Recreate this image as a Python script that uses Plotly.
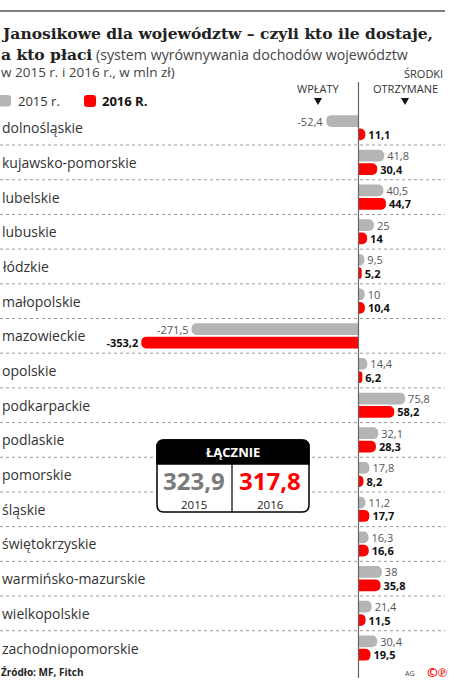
import plotly.graph_objects as go

regions = ["dolnośląskie", "kujawsko-pomorskie", "lubelskie", "lubuskie", "łódzkie",
           "małopolskie", "mazowieckie", "opolskie", "podkarpackie", "podlaskie",
           "pomorskie", "śląskie", "świętokrzyskie", "warmińsko-mazurskie",
           "wielkopolskie", "zachodniopomorskie"]
v2015 = [-52.4, 41.8, 40.5, 25, 9.5, 10, -271.5, 14.4, 75.8, 32.1, 17.8, 11.2, 16.3, 38, 21.4, 30.4]
v2016 = [11.1, 30.4, 44.7, 14, 5.2, 10.4, -353.2, 6.2, 58.2, 28.3, 8.2, 17.7, 16.6, 35.8, 11.5, 19.5]
total_2015 = 323.9
total_2016 = 317.8
years = ["2015", "2016"]

W, H = 462, 684
SANS = "Open Sans"
SERIF = "DejaVu Serif"
GRAY = "#b5b5b5"
RED = "#ff0000"


def fmt(v):
    return ("%g" % v).replace(".", ",")


def px(x):
    return x / W


def py(y):
    return 1 - y / H


def rrect(x0, y0, x1, y1, r, top=True, bottom=True):
    # rounded rectangle path in paper coords from pixel coords
    rt = r if top else 0
    rb = r if bottom else 0
    p = []
    p.append("M %f,%f" % (px(x0 + rt), py(y0)))
    p.append("L %f,%f" % (px(x1 - rt), py(y0)))
    if rt:
        p.append("Q %f,%f %f,%f" % (px(x1), py(y0), px(x1), py(y0 + rt)))
    p.append("L %f,%f" % (px(x1), py(y1 - rb)))
    if rb:
        p.append("Q %f,%f %f,%f" % (px(x1), py(y1), px(x1 - rb), py(y1)))
    p.append("L %f,%f" % (px(x0 + rb), py(y1)))
    if rb:
        p.append("Q %f,%f %f,%f" % (px(x0), py(y1), px(x0), py(y1 - rb)))
    p.append("L %f,%f" % (px(x0), py(y0 + rt)))
    if rt:
        p.append("Q %f,%f %f,%f" % (px(x0), py(y0), px(x0 + rt), py(y0)))
    p.append("Z")
    return " ".join(p)


def tri_down(cx, y0, w=8, h=7):
    return "M %f,%f L %f,%f L %f,%f Z" % (px(cx - w / 2), py(y0), px(cx + w / 2), py(y0),
                                         px(cx), py(y0 + h))


fig = go.Figure()
fig.add_trace(go.Bar(
    y=regions, x=v2015, orientation="h", name="2015 r.",
    marker=dict(color=GRAY, cornerradius=6, line=dict(width=0)),
    text=[fmt(v) for v in v2015], textposition="outside",
    textfont=dict(family=SANS, size=11, color="#555"),
    cliponaxis=False, constraintext="none",
))
fig.add_trace(go.Bar(
    y=regions, x=v2016, orientation="h", name="2016 R.",
    marker=dict(color=RED, cornerradius=6, line=dict(width=0)),
    text=["<b>%s</b>" % fmt(v) for v in v2016], textposition="outside",
    textfont=dict(family=SANS, size=11, color="#111"),
    cliponaxis=False, constraintext="none",
))

zero_px = 358.5
scale = 0.615
row0 = 127.7
pitch = 34.69

shapes = []
annotations = []

# dotted separators
for i in range(len(regions) - 1):
    shapes.append(dict(type="line", xref="paper", yref="y", x0=0, x1=px(445),
                       y0=i + 0.5, y1=i + 0.5, layer="below",
                       line=dict(color="#999", width=1, dash="dot")))

# zero line
shapes.append(dict(type="line", xref="x", yref="paper", x0=0, x1=0,
                   y0=py(678), y1=py(82), line=dict(color="#666", width=1.2)))

# top rule
shapes.append(dict(type="line", xref="paper", yref="paper", x0=0, x1=px(445),
                   y0=py(11), y1=py(11), line=dict(color="#555", width=1.5)))

# legend swatches
shapes.append(dict(type="path", xref="paper", yref="paper",
                   path=rrect(-2, 95, 11, 106.5, 3), fillcolor=GRAY, line=dict(width=0)))
shapes.append(dict(type="path", xref="paper", yref="paper",
                   path=rrect(84, 95, 96, 107, 3), fillcolor=RED, line=dict(width=0)))

# header arrows
for cx in (318, 405):
    shapes.append(dict(type="path", xref="paper", yref="paper", path=tri_down(cx, 98),
                       fillcolor="#111", line=dict(width=0)))

# ŁĄCZNIE box
shapes.append(dict(type="path", xref="paper", yref="paper",
                   path=rrect(157, 440, 309, 512, 7), fillcolor="white",
                   line=dict(color="#000", width=1.5)))
shapes.append(dict(type="path", xref="paper", yref="paper",
                   path=rrect(157, 440, 309, 464, 7, bottom=False), fillcolor="#000",
                   line=dict(color="#000", width=1.5)))
shapes.append(dict(type="line", xref="paper", yref="paper", x0=px(232), x1=px(232),
                   y0=py(464), y1=py(512), line=dict(color="#000", width=1.2)))


def ann(x, y, text, size, color="#222", family=SANS, xanchor="left", yanchor="middle"):
    annotations.append(dict(x=px(x), y=py(y), xref="paper", yref="paper", text=text,
                            showarrow=False, xanchor=xanchor, yanchor=yanchor,
                            font=dict(family=family, size=size, color=color)))


# title
ann(-1, 34, "<b>Janosikowe dla województw – czyli kto ile dostaje,</b>", 15.5, "#222", SERIF)
ann(-1, 54, "<b>a kto płaci</b>", 15.5, "#222", SERIF)
ann(94, 54, "(system wyrównywania dochodów województw", 14.2, "#444")
ann(-1, 72, "w 2015 r. i 2016 r., w mln zł)", 13.5, "#444")

# legend text
ann(16, 101, "2015 r.", 13, "#333")
ann(100, 101, "<b>2016 R.</b>", 13, "#111")

# column heads
ann(318, 88, "WPŁATY", 11, "#333", xanchor="center")
ann(445, 74, "ŚRODKI", 11, "#333", xanchor="right")
ann(405, 88, "OTRZYMANE", 11, "#333", xanchor="center")

# box texts
ann(233, 452, "<b>ŁĄCZNIE</b>", 13, "white", xanchor="center")
ann(194, 480, "<b>%s</b>" % fmt(total_2015), 24, "#7a7a7a", xanchor="center")
ann(270, 480, "<b>%s</b>" % fmt(total_2016), 24, RED, xanchor="center")
ann(194, 504, years[0], 11.5, "#222", xanchor="center")
ann(270, 504, years[1], 11.5, "#222", xanchor="center")

# footer
ann(-1, 672, "<b>Źródło: MF, Fitch</b>", 10, "#222")
ann(410, 673, "AG", 7, "#444", xanchor="center")
ann(437, 672, "<b>©℗</b>", 13, RED, xanchor="center")

# row labels
for r in regions:
    annotations.append(dict(x=0, y=r, xref="paper", yref="y", text=r, showarrow=False,
                            xanchor="left", yanchor="middle",
                            font=dict(family=SANS, size=14, color="#333")))

fig.update_layout(
    width=W, height=H, margin=dict(l=0, r=0, t=0, b=0),
    paper_bgcolor="white", plot_bgcolor="white",
    barmode="group", bargap=0.23, bargroupgap=0.12,
    showlegend=False, separators=", ",
    xaxis=dict(range=[-zero_px / scale, (W - zero_px) / scale], visible=False,
               showgrid=False, zeroline=False, fixedrange=True),
    yaxis=dict(type="category", categoryorder="array", categoryarray=regions,
               range=[(H - row0) / pitch, -row0 / pitch], visible=False,
               showgrid=False, zeroline=False, fixedrange=True),
    shapes=shapes, annotations=annotations,
    font=dict(family=SANS),
)

fig.write_html("out.html")
